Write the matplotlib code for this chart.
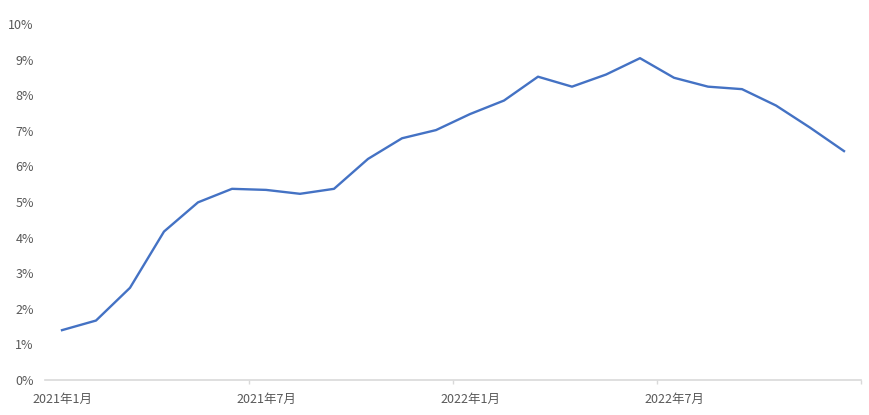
import matplotlib

matplotlib.use('Agg')
from matplotlib import pyplot as plt
from matplotlib.ticker import FixedLocator, FuncFormatter

plt.rcParams['font.family'] = ['Noto Sans CJK SC', 'DejaVu Sans']

# monthly values, 2021-01 .. 2022-12 (percent)
months = [f'{y}年{m}月' for y in (2021, 2022) for m in range(1, 13)]
values = [1.40, 1.67, 2.59, 4.17, 4.99, 5.37, 5.34, 5.23, 5.37, 6.21, 6.79, 7.02,
          7.47, 7.85, 8.52, 8.24, 8.58, 9.04, 8.49, 8.24, 8.17, 7.71, 7.09, 6.43]
y_ticks = list(range(0, 11))

LINE_COLOR = '#4472C4'
TEXT_COLOR = '#595959'
AXIS_COLOR = '#D9D9D9'

fig = plt.figure(figsize=(8.7, 4.15), dpi=100)
ax = fig.add_axes([45 / 870, 35 / 415, 816 / 870, 356 / 415])

x = list(range(len(values)))
ax.plot(x, values, color=LINE_COLOR, linewidth=1.7, solid_joinstyle='round')

ax.set_xlim(-0.5, len(values) - 0.5)
ax.set_ylim(0, 10)

# labels every 6 months, tick marks on category boundaries
label_idx = list(range(0, len(months), 6))
ax.xaxis.set_major_locator(FixedLocator(label_idx))
ax.set_xticklabels([months[i] for i in label_idx])
ax.xaxis.set_minor_locator(FixedLocator([i + 5.5 for i in label_idx]))
ax.tick_params(axis='x', which='major', length=0, pad=9, labelsize=9, labelcolor=TEXT_COLOR)
ax.tick_params(axis='x', which='minor', length=3, color=AXIS_COLOR, width=1)

ax.yaxis.set_major_locator(FixedLocator(y_ticks))
ax.yaxis.set_major_formatter(FuncFormatter(lambda v, p: f'{int(v)}%'))
ax.tick_params(axis='y', length=0, pad=8, labelsize=9, labelcolor=TEXT_COLOR)

for side in ('top', 'right', 'left'):
    ax.spines[side].set_visible(False)
ax.spines['bottom'].set_color(AXIS_COLOR)
ax.spines['bottom'].set_linewidth(1.2)

fig.savefig('out.png', dpi=100)
